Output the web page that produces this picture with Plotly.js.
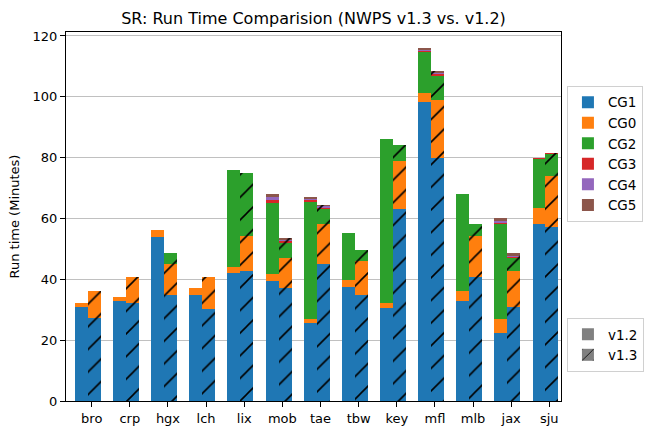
<!DOCTYPE html>
<html>
<head>
<meta charset="utf-8">
<script src="https://cdn.plot.ly/plotly-3.0.1.min.js"></script>
<style>html,body{margin:0;padding:0;background:#fff}#chart{width:656px;height:435px}</style>
</head>
<body>
<div id="chart"></div>
<script>
const categories = ['bro','crp','hgx','lch','lix','mob','tae','tbw','key','mfl','mlb','jax','sju'];
const seriesNames = ['CG1','CG0','CG2','CG3','CG4','CG5'];
const seriesColors = ['#1f77b4','#ff7f0e','#2ca02c','#d62728','#9467bd','#8c564b'];

// v1.2 (solid bars)
const v12_CG1 = [30.8, 32.8, 53.9, 34.8, 42.0, 39.6, 25.7, 37.6, 30.7, 98.3, 32.8, 22.2, 58.1];
const v12_CG0 = [1.3, 1.3, 2.2, 2.2, 2.2, 2.3, 1.4, 2.3, 1.6, 3.1, 3.5, 4.6, 5.3];
const v12_CG2 = [0, 0, 0, 0, 31.7, 23.1, 38.2, 15.2, 53.8, 13.2, 31.7, 31.3, 16.2];
const v12_CG3 = [0, 0, 0, 0, 0, 1.0, 0.7, 0, 0, 0.5, 0, 0.4, 0.4];
const v12_CG4 = [0, 0, 0, 0, 0, 1.0, 0.3, 0, 0, 0.4, 0, 0.7, 0];
const v12_CG5 = [0, 0, 0, 0, 0, 1.0, 0.7, 0, 0, 0.7, 0, 0.9, 0];

// v1.3 (hatched bars)
const v13_CG1 = [27.2, 32.1, 35.0, 30.1, 42.9, 37.0, 44.9, 35.0, 63.1, 79.9, 40.9, 31.0, 57.2];
const v13_CG0 = [8.8, 8.8, 9.9, 10.8, 11.2, 9.9, 13.2, 10.9, 15.9, 19.1, 13.2, 11.9, 16.7];
const v13_CG2 = [0, 0, 3.9, 0, 20.8, 5.2, 5.0, 3.9, 5.2, 7.9, 4.0, 4.0, 7.3];
const v13_CG3 = [0, 0, 0, 0, 0, 0.5, 0.4, 0, 0, 0.5, 0, 0.3, 0.3];
const v13_CG4 = [0, 0, 0, 0, 0, 0.4, 0.5, 0, 0, 0.5, 0, 0.5, 0];
const v13_CG5 = [0, 0, 0, 0, 0, 0.5, 0.4, 0, 0, 0.7, 0, 0.8, 0];

const v12 = [v12_CG1, v12_CG0, v12_CG2, v12_CG3, v12_CG4, v12_CG5];
const v13 = [v13_CG1, v13_CG0, v13_CG2, v13_CG3, v13_CG4, v13_CG5];

const barW = 0.34;
const idx = categories.map((c, i) => i);
const x12 = idx.map(i => i - 0.27);
const x13 = idx.map(i => i + 0.07);

function hatch(bg) {
  return {shape: '/', fgcolor: '#000000', bgcolor: bg, fillmode: 'replace', size: 16, solidity: 0.1};
}
const traces = [];
seriesNames.forEach((name, k) => {
  traces.push({
    type: 'bar', x: x12, y: v12[k], width: barW, name: name,
    marker: {color: seriesColors[k], line: {width: 0}},
    legend: 'legend', showlegend: true, hoverinfo: 'skip'
  });
});
seriesNames.forEach((name, k) => {
  traces.push({
    type: 'bar', x: x13, y: v13[k], width: barW, name: name + ' v1.3',
    marker: {color: seriesColors[k], line: {width: 0}, pattern: hatch(seriesColors[k])},
    showlegend: false, hoverinfo: 'skip'
  });
});
// version legend entries
traces.push({type: 'bar', x: [null], y: [null], name: 'v1.2',
  marker: {color: '#808080', line: {width: 0}}, legend: 'legend2', showlegend: true});
traces.push({type: 'bar', x: [null], y: [null], name: 'v1.3',
  marker: {color: '#808080', line: {width: 0}, pattern: hatch('#808080')}, legend: 'legend2', showlegend: true});

const font = {family: 'DejaVu Sans, sans-serif', size: 13, color: '#000'};
const legFont = {family: 'DejaVu Sans, sans-serif', size: 13.5, color: '#000'};
const layout = {
  width: 656, height: 435,
  margin: {l: 66, r: 95, t: 32, b: 34},
  paper_bgcolor: '#fff', plot_bgcolor: '#fff',
  barmode: 'stack',
  font: font,
  title: {text: 'SR: Run Time Comparision (NWPS v1.3 vs. v1.2)', font: {family: 'DejaVu Sans, sans-serif', size: 16, color: '#000'},
          x: 0.5, xref: 'paper', y: 1 - 18/435, yref: 'container', yanchor: 'middle'},
  xaxis: {
    range: [-0.674, 12.307], tickmode: 'array', tickvals: idx, ticktext: categories,
    showgrid: false, zeroline: false, showline: true, mirror: true, linecolor: '#000', linewidth: 1,
    ticks: 'outside', ticklen: 5, tickcolor: '#000', tickfont: font
  },
  yaxis: {
    range: [0, 121.3], tickmode: 'array', tickvals: [0,20,40,60,80,100,120],
    showgrid: true, gridcolor: '#b0b0b0', gridwidth: 0.8, zeroline: false,
    showline: true, mirror: true, linecolor: '#000', linewidth: 1,
    ticks: 'outside', ticklen: 5, tickcolor: '#000', tickfont: font,
    title: {text: 'Run time (Minutes)', font: font, standoff: 10}
  },
  legend: {x: 1.012, y: 0.854, xanchor: 'left', yanchor: 'top', traceorder: 'normal',
           bgcolor: '#fff', bordercolor: '#d0d0d0', borderwidth: 1, font: legFont, itemwidth: 30},
  legend2: {x: 1.012, y: 0.225, xanchor: 'left', yanchor: 'top', traceorder: 'normal',
           bgcolor: '#fff', bordercolor: '#d0d0d0', borderwidth: 1, font: legFont, itemwidth: 30}
};
Plotly.newPlot('chart', traces, layout, {staticPlot: true, displayModeBar: false});
</script>
</body>
</html>
